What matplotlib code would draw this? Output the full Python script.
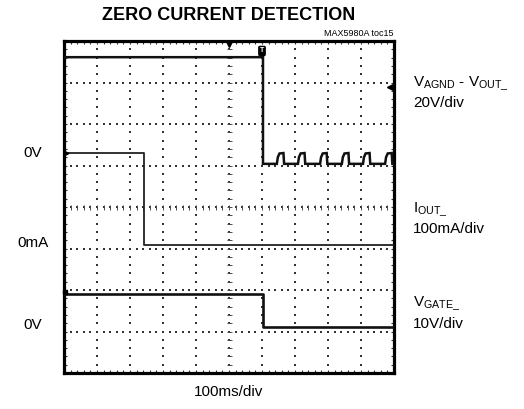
import numpy as np
import matplotlib
matplotlib.use('Agg')
import matplotlib.pyplot as plt

plt.rcParams['font.family'] = ['Liberation Sans', 'DejaVu Sans']
plt.rcParams['mathtext.fontset'] = 'custom'
plt.rcParams['mathtext.rm'] = 'Liberation Sans'
plt.rcParams['mathtext.it'] = 'Liberation Sans'

# scope traces, in divisions (x: 0-10, y: 0-8 from bottom)
vagnd_x = [0.0, 6.03, 6.03, 10.0]
vagnd_y = [7.61, 7.61, 5.04, 5.04]
pulse_starts = [6.45, 7.09, 7.76, 8.42, 9.06, 9.73]
pulse_dx = [0.0, 0.03, 0.08, 0.20, 0.22]
pulse_lv = [5.04, 5.20, 5.29, 5.30, 5.04]

iout_x = [0.0, 2.42, 2.42, 10.0]
iout_y = [5.30, 5.30, 3.08, 3.08]

vgate_x = [0.0, 6.03, 6.03, 10.0]
vgate_y = [1.90, 1.90, 1.11, 1.11]

left_labels = ['0V', '0mA', '0V']
left_label_y = [5.30, 3.14, 1.15]
right_labels = ['V$_{\\mathrm{AGND}}$ - V$_{\\mathrm{OUT\\_}}$\n20V/div',
                'I$_{\\mathrm{OUT\\_}}$\n100mA/div',
                'V$_{\\mathrm{GATE\\_}}$\n10V/div']
right_label_y = [6.76, 3.73, 1.45]

# build VAGND trace with the switching pulses after the drop
vx = vagnd_x[:3]
vy = vagnd_y[:3]
for s in pulse_starts:
    for dx, lv in zip(pulse_dx, pulse_lv):
        vx.append(min(s + dx, 10.0))
        vy.append(lv)
vx.append(10.0)
vy.append(5.04)

fig = plt.figure(figsize=(5.24, 4.09), dpi=100)
ax = fig.add_axes([64/524, 36/409, 330/524, 332/409])
ax.set_xlim(0, 10)
ax.set_ylim(0, 8)

# grid dots
gx, gy = [], []
for i in range(1, 10):
    for v in np.arange(0, 8.01, 0.2):
        gx.append(i); gy.append(v)
for j in range(1, 8):
    for v in np.arange(0, 10.01, 0.2):
        gx.append(v); gy.append(j)
ax.scatter(gx, gy, s=1.3, color='#333333', marker='s', linewidths=0, zorder=1)

# center cross ticks
cx = np.arange(0.2, 10, 0.2)
cy = np.arange(0.2, 8, 0.2)
ax.plot(cx, np.full_like(cx, 4.0), ls='none', marker='|', ms=3.6, mew=0.7, color='#4a4a4a', zorder=1)
ax.plot(np.full_like(cy, 5.0), cy, ls='none', marker='_', ms=3.6, mew=0.7, color='#4a4a4a', zorder=1)

# traces
ax.plot(vx, vy, color='#111111', lw=1.8, zorder=3, solid_joinstyle='miter')
ax.plot(iout_x, iout_y, color='#222222', lw=1.3, zorder=3)
ax.plot(vgate_x, vgate_y, color='#111111', lw=1.9, zorder=3)

# scope markers
ax.plot([5.0], [7.93], marker='v', ms=5, color='black', clip_on=False, zorder=4)
ax.text(6.0, 7.76, 'T', ha='center', va='center', fontsize=5, color='white', fontweight='bold',
        bbox=dict(boxstyle='round,pad=0.15', fc='black', ec='black'), zorder=5)
ax.plot([9.88], [6.9], marker='<', ms=4, color='black', zorder=4)
ax.plot([0.05], [5.30], marker='>', ms=3.5, color='black', clip_on=False, zorder=4)
ax.plot([0.04], [1.95], marker='s', ms=3.5, color='black', clip_on=False, zorder=4)

ax.set_xticks(range(0, 11))
ax.set_yticks(range(0, 9))
ax.set_xticks(np.arange(0, 10.01, 0.2), minor=True)
ax.set_yticks(np.arange(0, 8.01, 0.2), minor=True)
ax.tick_params(which='both', direction='in', length=2.5, width=0.8, color='#333333',
               top=True, right=True, labelbottom=False, labelleft=False)
for sp in ax.spines.values():
    sp.set_linewidth(2.3)

for lab, y in zip(left_labels, left_label_y):
    ax.text(-0.95, y, lab, ha='center', va='center', fontsize=11)
for lab, y in zip(right_labels, right_label_y):
    ax.text(10.58, y, lab, ha='left', va='center', fontsize=11, linespacing=1.3)

ax.text(5.0, -0.45, '100ms/div', ha='center', va='center', fontsize=11)
ax.text(10.0, 8.08, 'MAX5980A toc15', ha='right', va='bottom', fontsize=6.5)

fig.text(229/524, 1 - 15/409, 'ZERO CURRENT DETECTION', ha='center', va='center',
         fontsize=13, fontweight='bold')

fig.savefig('out.png', dpi=100)
